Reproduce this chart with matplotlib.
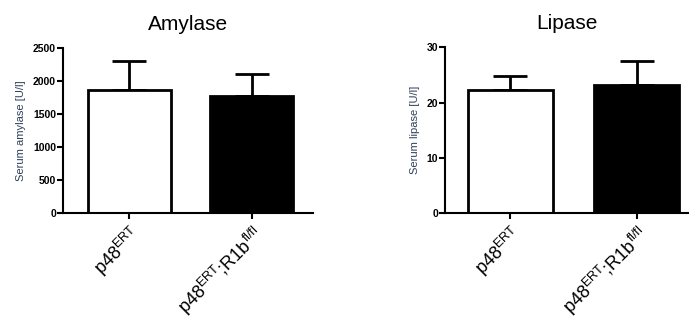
import matplotlib
matplotlib.use("Agg")
import matplotlib.pyplot as plt
import matplotlib.transforms as mtransforms

plt.rcParams['font.family'] = ['Liberation Sans', 'DejaVu Sans']
plt.rcParams['mathtext.fontset'] = 'custom'
plt.rcParams['mathtext.rm'] = 'Liberation Sans'
plt.rcParams['mathtext.it'] = 'Liberation Sans:italic'
plt.rcParams['mathtext.bf'] = 'Liberation Sans:bold'

groups = [r'p48$^{\mathrm{ERT}}$', r'p48$^{\mathrm{ERT}}$;R1b$^{\mathrm{fl/fl}}$']
amylase_mean = [1860, 1778]
amylase_err = [440, 333]
lipase_mean = [22.3, 23.2]
lipase_err = [2.6, 4.3]
amylase_ticks = [0, 500, 1000, 1500, 2000, 2500]
lipase_ticks = [0, 10, 20, 30]

fig = plt.figure(figsize=(6.89, 3.23), dpi=100)
ax1 = fig.add_axes([63/689, 1-213/323, 250/689, 165/323])
ax2 = fig.add_axes([445/689, 1-213.3/323, 243/689, 166/323])

label_color = '#2e3f5c'

def draw(ax, means, errs, ticks, title, ylabel, xlim, width):
    x = list(range(len(means)))
    ax.bar(x, means, width=width, color=['white', 'black'], edgecolor='black', linewidth=2, zorder=2)
    ax.errorbar(x, means, yerr=[[0]*len(errs), errs], fmt='none', ecolor='black',
                elinewidth=2, capsize=12, capthick=2, zorder=1)
    ax.set_ylim(ticks[0], ticks[-1])
    ax.set_yticks(ticks)
    ax.set_yticklabels([str(t) for t in ticks], fontsize=7.5, fontweight='bold')
    ax.set_xlim(*xlim)
    ax.set_xticks(x)
    ax.set_xticklabels(groups, rotation=45, ha='right', va='top', rotation_mode='anchor', fontsize=13)
    offset = mtransforms.ScaledTranslation(-5/100, 0, fig.dpi_scale_trans)
    for lab in ax.get_xticklabels():
        lab.set_transform(lab.get_transform() + offset)
    ax.set_title(title, fontsize=15, pad=13)
    ax.set_ylabel(ylabel, fontsize=8, color=label_color, labelpad=5)
    for s in ['top', 'right']:
        ax.spines[s].set_visible(False)
    for s in ['left', 'bottom']:
        ax.spines[s].set_linewidth(1.5)
    ax.tick_params(axis='both', direction='out', length=4, width=1.5, pad=1)
    ax.tick_params(axis='x', pad=3)

draw(ax1, amylase_mean, amylase_err, amylase_ticks, 'Amylase', 'Serum amylase [U/l]', (-0.545, 1.504), 0.68)
draw(ax2, lipase_mean, lipase_err, lipase_ticks, 'Lipase', 'Serum lipase [U/l]', (-0.516, 1.405), 0.67)

fig.savefig('out.png', dpi=100)
